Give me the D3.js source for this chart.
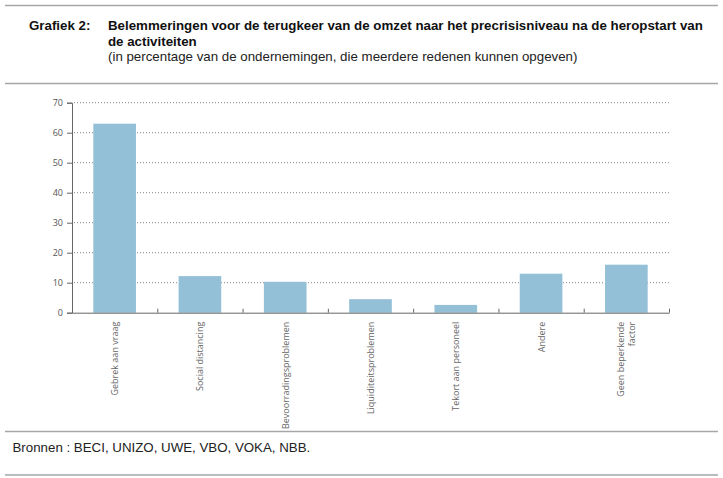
<!DOCTYPE html>
<html><head><meta charset="utf-8">
<script src="https://cdn.jsdelivr.net/npm/d3@7"></script>
<style>
html,body{margin:0;padding:0;background:#fff;}
svg{display:block;}
</style>
</head><body>
<svg id="chart" width="723" height="478"></svg>
<script>
const categories = [
  ["Gebrek aan vraag"],
  ["Social distancing"],
  ["Bevoorradingsproblemen"],
  ["Liquiditeitsproblemen"],
  ["Tekort aan personeel"],
  ["Andere"],
  ["Geen beperkende", "factor"]
];
const values = [63, 12.2, 10.3, 4.5, 2.6, 13, 16];
const yTicks = [0, 10, 20, 30, 40, 50, 60, 70];
const titleLabel = "Grafiek 2:";
const titleLines = ["Belemmeringen voor de terugkeer van de omzet naar het precrisisniveau na de heropstart van", "de activiteiten"];
const subtitle = "(in percentage van de ondernemingen, die meerdere redenen kunnen opgeven)";
const source = "Bronnen : BECI, UNIZO, UWE, VBO, VOKA, NBB.";

const svg = d3.select("#chart");

// header rules
const rules = [5.5, 83.5, 431.5, 475];
svg.selectAll("line.rule").data(rules).join("line")
  .attr("class","rule").attr("x1",5).attr("x2",718)
  .attr("y1",d=>d).attr("y2",d=>d)
  .attr("stroke","#a6a6a6").attr("stroke-width",1.6);

const hf = "'Liberation Sans', Arial, sans-serif";
const hs = 13.3;
svg.append("text").attr("x",29).attr("y",30).attr("font-family",hf)
  .attr("font-weight","bold").attr("font-size",hs).attr("fill","#111").text(titleLabel);
svg.selectAll("text.tl").data(titleLines).join("text").attr("class","tl")
  .attr("x",108).attr("y",(d,i)=>30+i*15.5).attr("font-family",hf)
  .attr("font-weight","bold").attr("font-size",hs).attr("fill","#111").text(d=>d);
svg.append("text").attr("x",108).attr("y",61).attr("font-family",hf)
  .attr("font-size",hs).attr("fill","#222").text(subtitle);
svg.append("text").attr("x",12.5).attr("y",452).attr("font-family",hf)
  .attr("font-size",hs).attr("fill","#222").text(source);

// chart
const x0 = 72, x1 = 669, yTop = 102.7, yBot = 312.7;
const x = d3.scaleBand().domain(d3.range(categories.length)).range([x0, x1]).paddingInner(0.5).paddingOuter(0.25);
const y = d3.scaleLinear().domain([0, 70]).range([yBot, yTop]);
const cf = "'Open Sans', 'Noto Sans', sans-serif";

// gridlines
svg.append("g").selectAll("line").data(yTicks.filter(t=>t>0)).join("line")
  .attr("x1",x0+2).attr("x2",x1).attr("y1",d=>y(d)).attr("y2",d=>y(d))
  .attr("stroke","#777").attr("stroke-width",0.9).attr("stroke-dasharray","1,2");

// bars
svg.append("g").selectAll("rect").data(values).join("rect")
  .attr("x",(d,i)=>x(i)).attr("width",x.bandwidth())
  .attr("y",d=>y(d)).attr("height",d=>yBot-y(d))
  .attr("fill","#93bfd7");

// y axis
const yAxis = d3.axisLeft(y).tickValues(yTicks).tickSize(5).tickPadding(4);
const ga = svg.append("g").attr("transform",`translate(${x0},0)`).call(yAxis);
ga.select(".domain").attr("stroke","#666");
ga.selectAll(".tick line").attr("stroke","#666");
ga.selectAll(".tick text").attr("font-family",cf).attr("font-size",9).attr("fill","#555");

// x axis (boundary ticks pointing up)
const xs = d3.scaleLinear().domain([0, categories.length]).range([x0, x1]);
const xAxis = d3.axisBottom(xs).tickValues(d3.range(1, categories.length+1)).tickSizeInner(-4).tickSizeOuter(0).tickFormat("");
const gx = svg.append("g").attr("transform",`translate(0,${yBot})`).call(xAxis);
gx.select(".domain").attr("stroke","#666");
gx.selectAll(".tick line").attr("stroke","#666");

// category labels
const lab = svg.append("g").selectAll("text").data(categories).join("text")
  .attr("transform",(d,i)=>`translate(${x(i)+x.bandwidth()/2 + 3.5 - (d.length-1)*5.5},${yBot+9}) rotate(-90)`)
  .attr("text-anchor","end").attr("font-family",cf).attr("font-size",9).attr("fill","#666");
lab.selectAll("tspan").data(d=>d).join("tspan")
  .attr("x",0).attr("dy",(d,i)=>i===0?0:11).text(d=>d);
</script>
</body></html>
